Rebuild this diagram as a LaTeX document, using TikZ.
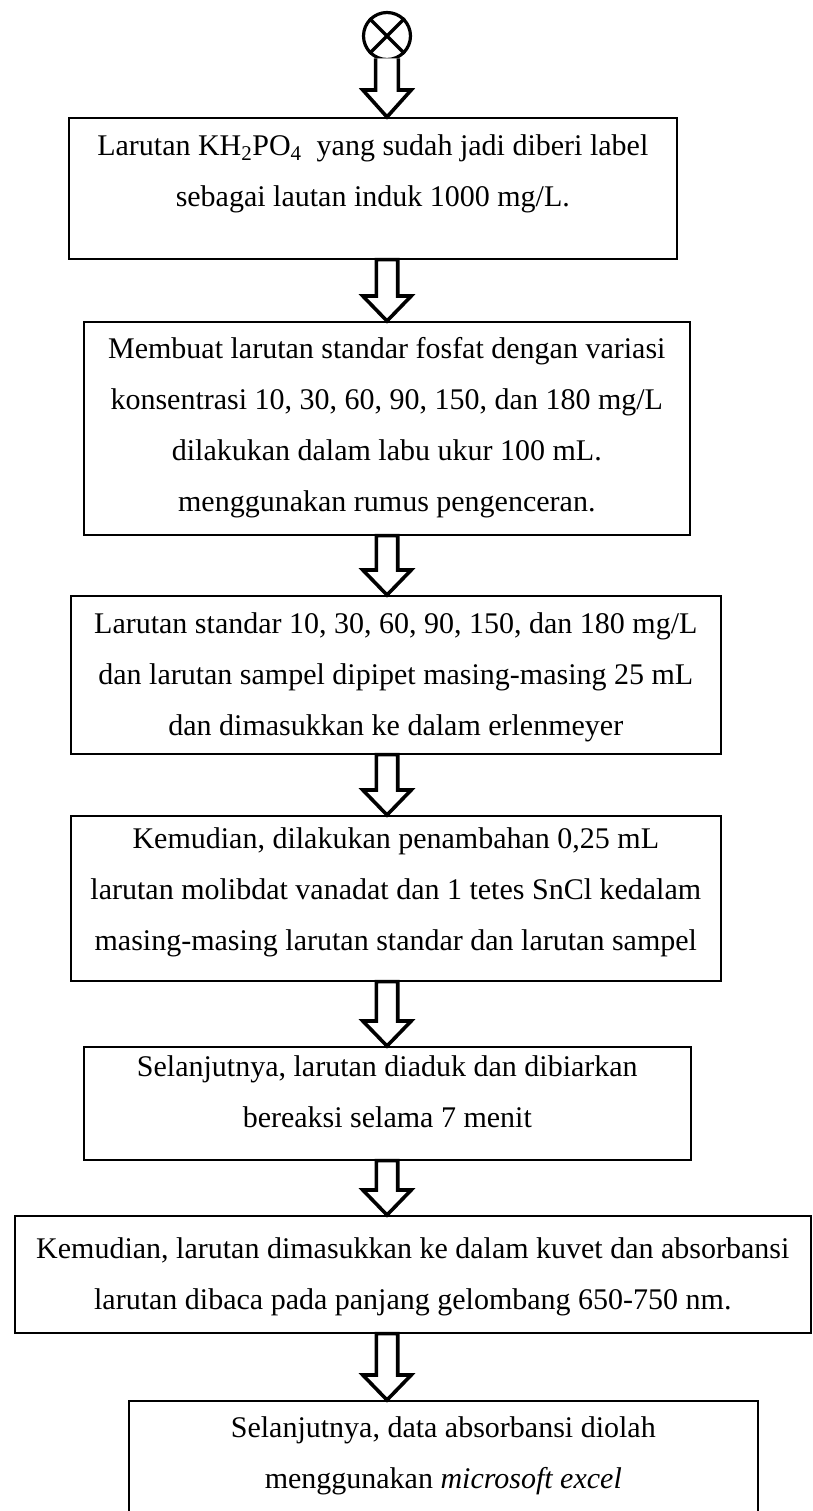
\documentclass[tikz,border=0pt]{standalone}
\usepackage{fontspec}
\setmainfont{Liberation Serif}
\usetikzlibrary{calc}
\tikzset{
  box/.style={draw, line width=1.6pt, rectangle, inner sep=0pt, anchor=north west},
  txt/.style={align=center, inner sep=0pt, anchor=north, font=\fontsize{30}{51}\selectfont},
  blockarr/.style={draw, line width=3.6pt, line join=miter, fill=white},
  startnode/.style={circle, draw, line width=3.2pt, minimum size=47pt, inner sep=0pt},
}
\newcommand\blockarrow[2]{%
  \draw[blockarr] let \p1=(#1.south -| ax), \p2=(#2.north -| ax) in
  (\x1-10.7pt,\y1) -- (\x1-10.7pt,\y2+25pt) -- (\x1-24.2pt,\y2+25pt) -- (\x1,\y2)
  -- (\x1+24.2pt,\y2+25pt) -- (\x1+10.7pt,\y2+25pt) -- (\x1+10.7pt,\y1) -- cycle;}
\begin{document}
\begin{tikzpicture}[x=1pt,y=-1pt]
\useasboundingbox (0,0) rectangle (812,1511);
\coordinate (ax) at (387,0);
% boxes
\node[box, minimum width=608pt, minimum height=141pt] (b1) at (68,117) {};
\node[box, minimum width=606pt, minimum height=213pt] (b2) at (83,321) {};
\node[box, minimum width=650pt, minimum height=158pt] (b3) at (70,595) {};
\node[box, minimum width=650pt, minimum height=165pt] (b4) at (70,815) {};
\node[box, minimum width=607pt, minimum height=113pt] (b5) at (83,1046) {};
\node[box, minimum width=796pt, minimum height=117pt] (b6) at (14,1215) {};
\node[box, minimum width=629pt, minimum height=140pt] (b7) at (128,1400) {};
% texts
\node[txt] (t1) at ($(b1.north)+(0,17.5)$) {Larutan KH\textsubscript{2}PO\textsubscript{4}\ \ yang sudah jadi diberi label\\sebagai lautan induk 1000 mg/L.};
\node[txt] (t2) at ($(b2.north)+(0,16.5)$) {Membuat larutan standar fosfat dengan variasi\\konsentrasi 10, 30, 60, 90, 150, dan 180 mg/L\\dilakukan dalam labu ukur 100 mL.\\menggunakan rumus pengenceran.};
\node[txt] (t3) at ($(b3.north)+(0,17.5)$) {Larutan standar 10, 30, 60, 90, 150, dan 180 mg/L\\dan larutan sampel dipipet masing-masing 25 mL\\dan dimasukkan ke dalam erlenmeyer};
\node[txt] (t4) at ($(b4.north)+(0,12.5)$) {Kemudian, dilakukan penambahan 0,25 mL\\larutan molibdat vanadat dan 1 tetes SnCl kedalam\\masing-masing larutan standar dan larutan sampel};
\node[txt] (t5) at ($(b5.north)+(0,9.5)$) {Selanjutnya, larutan diaduk dan dibiarkan\\bereaksi selama 7 menit};
\node[txt] (t6) at ($(b6.north)+(0,22.5)$) {Kemudian, larutan dimasukkan ke dalam kuvet dan absorbansi\\larutan dibaca pada panjang gelombang 650-750 nm.};
\node[txt] (t7) at ($(b7.north)+(0,16.5)$) {Selanjutnya, data absorbansi diolah\\menggunakan \textit{microsoft excel}};
% start symbol
\node[startnode] (start) at (387,36) {};
\draw[line width=3.2pt] (start.north west) -- (start.south east) (start.north east) -- (start.south west);
% arrows
\draw[blockarr] let \p1=(start.-117), \p2=(start.-63), \p3=(b1.north -| ax) in
  (\x1,\y1) -- (\x1,\y3+27pt) -- (\x3-24.2pt,\y3+27pt) -- (\x3,\y3)
  -- (\x3+24.2pt,\y3+27pt) -- (\x2,\y3+27pt) -- (\x2,\y2);
\blockarrow{b1}{b2}
\blockarrow{b2}{b3}
\blockarrow{b3}{b4}
\blockarrow{b4}{b5}
\blockarrow{b5}{b6}
\blockarrow{b6}{b7}
\end{tikzpicture}
\end{document}
